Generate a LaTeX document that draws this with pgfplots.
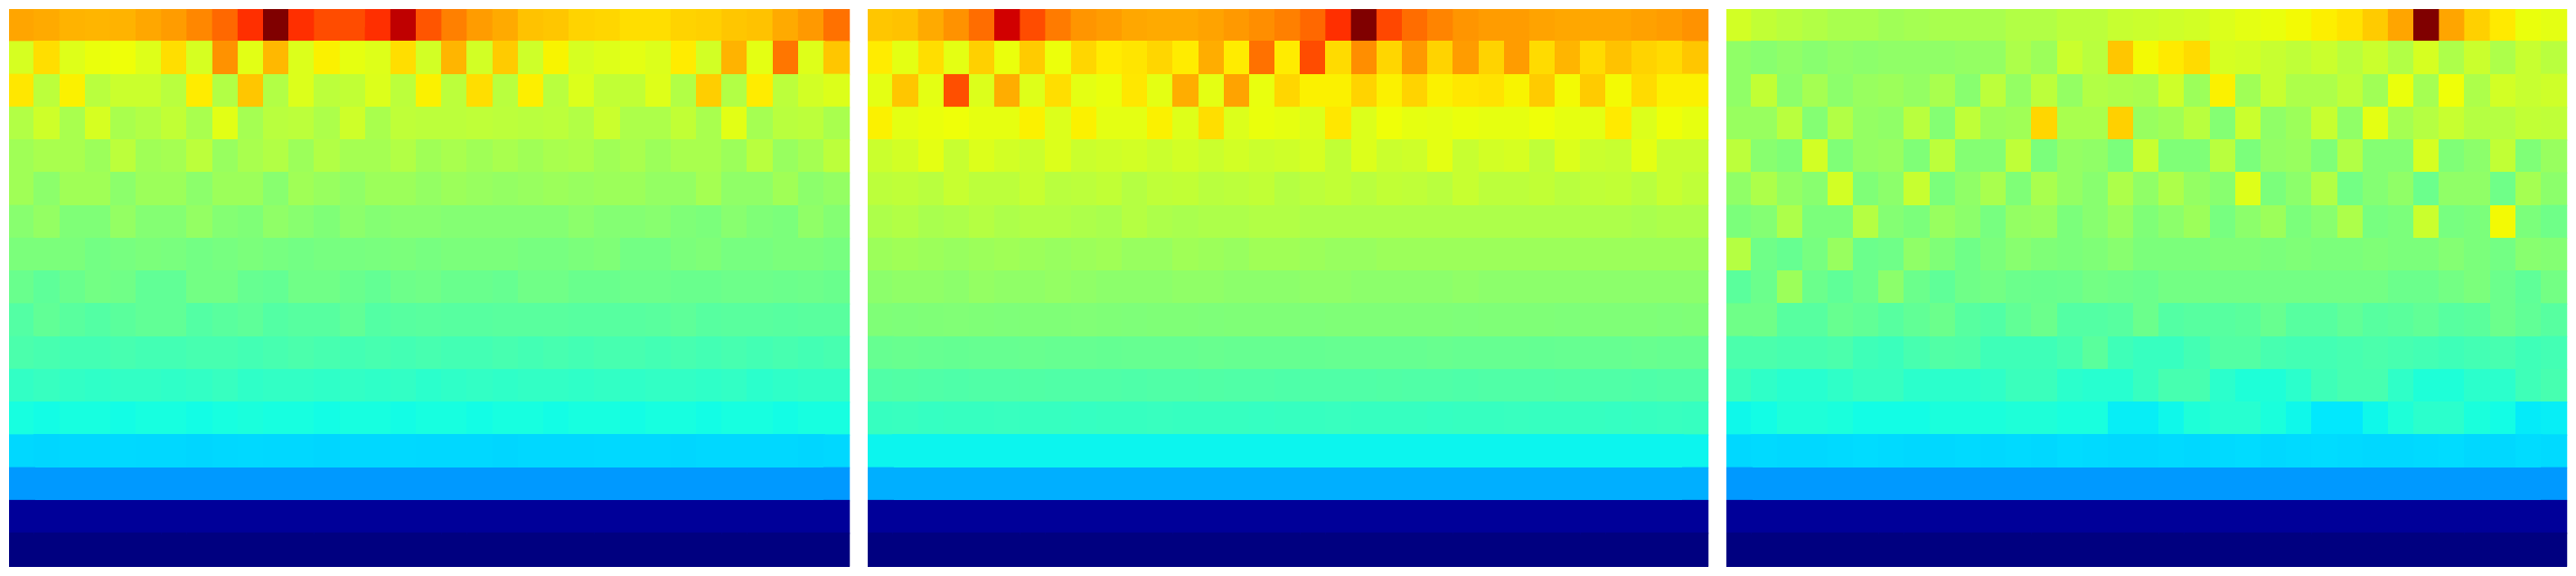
\documentclass[border=0pt]{standalone}
\usepackage{pgfplots}
\pgfplotsset{compat=1.18}
\pgfplotsset{
  colormap={mpljet}{rgb(0pt)=(0,0,0.5); rgb(1100pt)=(0,0,1); rgb(1250pt)=(0,0,1); rgb(3400pt)=(0,0.86,1); rgb(3500pt)=(0,0.9,1); rgb(3750pt)=(0.0806,1,0.8871); rgb(6400pt)=(0.9355,1,0.0323); rgb(6500pt)=(0.9677,0.963,0); rgb(6600pt)=(1,0.9259,0); rgb(8900pt)=(1,0.0741,0); rgb(9100pt)=(0.9091,0,0); rgb(10000pt)=(0.5,0,0)},
  hm/.style={width=232.5pt, height=154pt, scale only axis, hide axis,
    xmin=-0.5, xmax=32.5, ymin=-0.5, ymax=16.5, y dir=reverse,
    colormap name=mpljet, point meta min=0, point meta max=1, anchor=south west},
  hmplot/.style={matrix plot*, mesh/cols=33, mesh/rows=17, point meta=explicit},
}
\begin{document}
\begin{tikzpicture}
\useasboundingbox (0,0) rectangle (712.5pt,159pt);
% ---------------- Panel 1 ----------------
\begin{axis}[hm, at={(2.5pt,2.5pt)}]
\addplot[hmplot] table[header=false, row sep=\\, x expr={\coordindex-33*floor((\coordindex+0.5)/33)}, y expr={floor((\coordindex+0.5)/33)}, meta index=0] {
0.735\\0.73\\0.72\\0.718\\0.72\\0.733\\0.745\\0.767\\0.80\\0.86\\1.0\\0.86\\0.83\\0.83\\0.86\\0.945\\0.82\\0.775\\0.745\\0.73\\0.705\\0.70\\0.687\\0.683\\0.675\\0.675\\0.687\\0.69\\0.70\\0.705\\0.73\\0.748\\0.79\\
0.61\\0.675\\0.62\\0.635\\0.64\\0.62\\0.675\\0.61\\0.755\\0.625\\0.715\\0.617\\0.655\\0.63\\0.62\\0.675\\0.605\\0.718\\0.605\\0.695\\0.60\\0.652\\0.61\\0.62\\0.627\\0.617\\0.66\\0.605\\0.72\\0.627\\0.785\\0.62\\0.70\\
0.665\\0.578\\0.655\\0.575\\0.595\\0.595\\0.575\\0.66\\0.566\\0.70\\0.566\\0.617\\0.578\\0.585\\0.617\\0.578\\0.655\\0.578\\0.675\\0.575\\0.657\\0.575\\0.617\\0.585\\0.585\\0.62\\0.566\\0.692\\0.566\\0.66\\0.578\\0.605\\0.618\\
0.566\\0.60\\0.555\\0.61\\0.556\\0.566\\0.585\\0.555\\0.625\\0.55\\0.575\\0.578\\0.56\\0.60\\0.556\\0.582\\0.578\\0.578\\0.582\\0.578\\0.575\\0.578\\0.566\\0.595\\0.56\\0.56\\0.585\\0.555\\0.625\\0.55\\0.575\\0.578\\0.555\\
0.545\\0.555\\0.555\\0.54\\0.578\\0.545\\0.55\\0.578\\0.535\\0.555\\0.566\\0.54\\0.566\\0.55\\0.55\\0.566\\0.545\\0.555\\0.545\\0.555\\0.545\\0.555\\0.56\\0.545\\0.555\\0.54\\0.555\\0.555\\0.54\\0.575\\0.535\\0.55\\0.578\\
0.545\\0.52\\0.545\\0.545\\0.52\\0.54\\0.54\\0.52\\0.54\\0.54\\0.515\\0.545\\0.535\\0.525\\0.54\\0.54\\0.53\\0.54\\0.535\\0.53\\0.535\\0.54\\0.535\\0.54\\0.54\\0.53\\0.53\\0.55\\0.525\\0.525\\0.545\\0.52\\0.53\\
0.515\\0.53\\0.505\\0.505\\0.53\\0.51\\0.51\\0.53\\0.51\\0.505\\0.525\\0.515\\0.505\\0.52\\0.51\\0.515\\0.515\\0.51\\0.51\\0.51\\0.51\\0.51\\0.52\\0.51\\0.51\\0.515\\0.505\\0.50\\0.515\\0.505\\0.50\\0.525\\0.51\\
0.50\\0.50\\0.50\\0.49\\0.495\\0.50\\0.497\\0.49\\0.495\\0.50\\0.495\\0.49\\0.495\\0.495\\0.497\\0.50\\0.495\\0.50\\0.50\\0.50\\0.495\\0.495\\0.50\\0.505\\0.49\\0.49\\0.50\\0.505\\0.495\\0.495\\0.50\\0.50\\0.495\\
0.478\\0.464\\0.478\\0.49\\0.486\\0.468\\0.468\\0.49\\0.49\\0.474\\0.47\\0.486\\0.486\\0.478\\0.47\\0.482\\0.486\\0.478\\0.478\\0.474\\0.486\\0.486\\0.478\\0.478\\0.482\\0.482\\0.478\\0.478\\0.482\\0.482\\0.48\\0.482\\0.478\\
0.451\\0.468\\0.458\\0.451\\0.46\\0.468\\0.468\\0.451\\0.458\\0.464\\0.451\\0.456\\0.456\\0.468\\0.451\\0.456\\0.458\\0.456\\0.456\\0.458\\0.458\\0.458\\0.456\\0.456\\0.456\\0.458\\0.464\\0.456\\0.458\\0.458\\0.456\\0.458\\0.458\\
0.441\\0.436\\0.431\\0.431\\0.436\\0.431\\0.431\\0.436\\0.436\\0.431\\0.436\\0.441\\0.436\\0.431\\0.436\\0.431\\0.436\\0.431\\0.431\\0.436\\0.431\\0.436\\0.431\\0.436\\0.436\\0.431\\0.436\\0.431\\0.436\\0.431\\0.436\\0.431\\0.436\\
0.411\\0.417\\0.411\\0.407\\0.411\\0.411\\0.407\\0.411\\0.417\\0.407\\0.411\\0.411\\0.407\\0.411\\0.407\\0.411\\0.402\\0.407\\0.411\\0.407\\0.411\\0.411\\0.407\\0.411\\0.407\\0.411\\0.411\\0.407\\0.411\\0.402\\0.407\\0.411\\0.411\\
0.378\\0.373\\0.378\\0.378\\0.373\\0.378\\0.378\\0.373\\0.378\\0.382\\0.378\\0.378\\0.373\\0.378\\0.378\\0.373\\0.378\\0.378\\0.373\\0.378\\0.378\\0.373\\0.378\\0.378\\0.373\\0.378\\0.378\\0.373\\0.378\\0.378\\0.373\\0.378\\0.378\\
0.337\\0.335\\0.337\\0.337\\0.338\\0.337\\0.337\\0.335\\0.337\\0.338\\0.337\\0.337\\0.335\\0.337\\0.337\\0.338\\0.337\\0.337\\0.337\\0.335\\0.337\\0.337\\0.337\\0.338\\0.337\\0.337\\0.335\\0.337\\0.337\\0.337\\0.337\\0.335\\0.337\\
0.275\\0.275\\0.275\\0.275\\0.275\\0.275\\0.275\\0.275\\0.275\\0.275\\0.275\\0.275\\0.275\\0.275\\0.275\\0.275\\0.275\\0.275\\0.275\\0.275\\0.275\\0.275\\0.275\\0.275\\0.275\\0.275\\0.275\\0.275\\0.275\\0.275\\0.275\\0.275\\0.275\\
0.022\\0.022\\0.022\\0.022\\0.022\\0.022\\0.022\\0.022\\0.022\\0.022\\0.022\\0.022\\0.022\\0.022\\0.022\\0.022\\0.022\\0.022\\0.022\\0.022\\0.022\\0.022\\0.022\\0.022\\0.022\\0.022\\0.022\\0.022\\0.022\\0.022\\0.022\\0.022\\0.022\\
0\\0\\0\\0\\0\\0\\0\\0\\0\\0\\0\\0\\0\\0\\0\\0\\0\\0\\0\\0\\0\\0\\0\\0\\0\\0\\0\\0\\0\\0\\0\\0\\0\\
};
\end{axis}
% ---------------- Panel 2 ----------------
\begin{axis}[hm, at={(240pt,2.5pt)}]
\addplot[hmplot] table[header=false, row sep=\\, x expr={\coordindex-33*floor((\coordindex+0.5)/33)}, y expr={floor((\coordindex+0.5)/33)}, meta index=0] {
0.70\\0.705\\0.73\\0.755\\0.795\\0.93\\0.83\\0.78\\0.752\\0.745\\0.733\\0.73\\0.73\\0.737\\0.748\\0.76\\0.775\\0.80\\0.86\\1.0\\0.835\\0.795\\0.77\\0.752\\0.745\\0.745\\0.737\\0.733\\0.733\\0.733\\0.74\\0.745\\0.755\\
0.66\\0.627\\0.675\\0.627\\0.69\\0.635\\0.695\\0.637\\0.683\\0.66\\0.667\\0.683\\0.66\\0.727\\0.66\\0.79\\0.66\\0.83\\0.678\\0.76\\0.683\\0.748\\0.687\\0.745\\0.687\\0.745\\0.678\\0.718\\0.678\\0.705\\0.687\\0.678\\0.70\\
0.627\\0.70\\0.627\\0.826\\0.617\\0.727\\0.62\\0.675\\0.627\\0.635\\0.665\\0.627\\0.727\\0.627\\0.737\\0.633\\0.683\\0.655\\0.655\\0.687\\0.655\\0.687\\0.655\\0.665\\0.67\\0.652\\0.695\\0.645\\0.695\\0.645\\0.678\\0.655\\0.655\\
0.655\\0.627\\0.635\\0.64\\0.63\\0.63\\0.655\\0.617\\0.655\\0.627\\0.627\\0.655\\0.62\\0.675\\0.617\\0.635\\0.63\\0.617\\0.665\\0.617\\0.64\\0.63\\0.627\\0.635\\0.63\\0.63\\0.64\\0.63\\0.627\\0.662\\0.617\\0.64\\0.63\\
0.595\\0.605\\0.627\\0.592\\0.617\\0.605\\0.595\\0.617\\0.595\\0.60\\0.605\\0.595\\0.605\\0.595\\0.605\\0.595\\0.60\\0.61\\0.585\\0.617\\0.595\\0.60\\0.627\\0.592\\0.605\\0.61\\0.582\\0.617\\0.595\\0.592\\0.627\\0.592\\0.592\\
0.578\\0.582\\0.575\\0.592\\0.578\\0.578\\0.592\\0.575\\0.578\\0.585\\0.57\\0.582\\0.585\\0.575\\0.578\\0.585\\0.57\\0.578\\0.585\\0.575\\0.585\\0.582\\0.575\\0.592\\0.578\\0.578\\0.585\\0.575\\0.582\\0.585\\0.575\\0.592\\0.582\\
0.56\\0.566\\0.555\\0.56\\0.57\\0.56\\0.566\\0.566\\0.56\\0.555\\0.57\\0.56\\0.555\\0.56\\0.56\\0.566\\0.566\\0.56\\0.56\\0.56\\0.56\\0.56\\0.56\\0.56\\0.56\\0.56\\0.56\\0.56\\0.56\\0.56\\0.555\\0.56\\0.56\\
0.54\\0.545\\0.54\\0.535\\0.54\\0.545\\0.54\\0.535\\0.54\\0.545\\0.535\\0.535\\0.545\\0.54\\0.535\\0.545\\0.545\\0.54\\0.535\\0.535\\0.54\\0.54\\0.54\\0.54\\0.54\\0.54\\0.54\\0.54\\0.54\\0.54\\0.54\\0.54\\0.54\\
0.52\\0.525\\0.525\\0.52\\0.53\\0.525\\0.525\\0.53\\0.525\\0.52\\0.52\\0.52\\0.525\\0.525\\0.52\\0.52\\0.52\\0.525\\0.525\\0.52\\0.52\\0.52\\0.52\\0.525\\0.52\\0.52\\0.52\\0.52\\0.52\\0.52\\0.52\\0.52\\0.52\\
0.505\\0.503\\0.505\\0.507\\0.505\\0.503\\0.505\\0.505\\0.507\\0.505\\0.503\\0.505\\0.505\\0.503\\0.505\\0.505\\0.505\\0.503\\0.505\\0.505\\0.505\\0.505\\0.505\\0.503\\0.505\\0.505\\0.505\\0.503\\0.505\\0.505\\0.505\\0.503\\0.505\\
0.474\\0.476\\0.474\\0.472\\0.474\\0.474\\0.476\\0.474\\0.474\\0.472\\0.474\\0.474\\0.474\\0.476\\0.474\\0.474\\0.474\\0.472\\0.474\\0.474\\0.474\\0.474\\0.476\\0.474\\0.474\\0.474\\0.472\\0.474\\0.474\\0.474\\0.476\\0.474\\0.474\\
0.447\\0.449\\0.447\\0.445\\0.447\\0.447\\0.449\\0.447\\0.447\\0.447\\0.445\\0.447\\0.447\\0.449\\0.447\\0.447\\0.445\\0.447\\0.447\\0.447\\0.449\\0.447\\0.447\\0.445\\0.447\\0.447\\0.447\\0.449\\0.447\\0.447\\0.445\\0.447\\0.447\\
0.416\\0.418\\0.414\\0.416\\0.416\\0.418\\0.416\\0.416\\0.414\\0.416\\0.416\\0.418\\0.416\\0.416\\0.416\\0.414\\0.416\\0.416\\0.418\\0.416\\0.416\\0.416\\0.414\\0.416\\0.416\\0.418\\0.416\\0.416\\0.416\\0.414\\0.416\\0.418\\0.416\\
0.365\\0.365\\0.365\\0.365\\0.365\\0.365\\0.365\\0.365\\0.365\\0.365\\0.365\\0.365\\0.365\\0.365\\0.365\\0.365\\0.365\\0.365\\0.365\\0.365\\0.365\\0.365\\0.365\\0.365\\0.365\\0.365\\0.365\\0.365\\0.365\\0.365\\0.365\\0.365\\0.365\\
0.297\\0.297\\0.297\\0.297\\0.297\\0.297\\0.297\\0.297\\0.297\\0.297\\0.297\\0.297\\0.297\\0.297\\0.297\\0.297\\0.297\\0.297\\0.297\\0.297\\0.297\\0.297\\0.297\\0.297\\0.297\\0.297\\0.297\\0.297\\0.297\\0.297\\0.297\\0.297\\0.297\\
0.022\\0.022\\0.022\\0.022\\0.022\\0.022\\0.022\\0.022\\0.022\\0.022\\0.022\\0.022\\0.022\\0.022\\0.022\\0.022\\0.022\\0.022\\0.022\\0.022\\0.022\\0.022\\0.022\\0.022\\0.022\\0.022\\0.022\\0.022\\0.022\\0.022\\0.022\\0.022\\0.022\\
0\\0\\0\\0\\0\\0\\0\\0\\0\\0\\0\\0\\0\\0\\0\\0\\0\\0\\0\\0\\0\\0\\0\\0\\0\\0\\0\\0\\0\\0\\0\\0\\0\\
};
\end{axis}
% ---------------- Panel 3 ----------------
\begin{axis}[hm, at={(477.5pt,2.5pt)}]
\addplot[hmplot] table[header=false, row sep=\\, x expr={\coordindex-33*floor((\coordindex+0.5)/33)}, y expr={floor((\coordindex+0.5)/33)}, meta index=0] {
0.605\\0.585\\0.575\\0.566\\0.555\\0.555\\0.545\\0.55\\0.555\\0.555\\0.555\\0.566\\0.566\\0.578\\0.578\\0.592\\0.595\\0.60\\0.605\\0.617\\0.627\\0.635\\0.645\\0.657\\0.67\\0.695\\0.735\\1.0\\0.735\\0.69\\0.662\\0.635\\0.627\\
0.525\\0.515\\0.525\\0.515\\0.525\\0.52\\0.525\\0.525\\0.525\\0.53\\0.53\\0.56\\0.54\\0.595\\0.575\\0.70\\0.645\\0.662\\0.678\\0.61\\0.605\\0.592\\0.582\\0.595\\0.575\\0.595\\0.566\\0.61\\0.56\\0.595\\0.56\\0.592\\0.575\\
0.525\\0.585\\0.52\\0.55\\0.52\\0.535\\0.54\\0.53\\0.555\\0.515\\0.578\\0.53\\0.578\\0.53\\0.566\\0.56\\0.555\\0.60\\0.54\\0.655\\0.545\\0.592\\0.56\\0.56\\0.582\\0.545\\0.635\\0.55\\0.64\\0.56\\0.605\\0.592\\0.60\\
0.535\\0.535\\0.575\\0.51\\0.566\\0.53\\0.525\\0.575\\0.51\\0.582\\0.54\\0.545\\0.683\\0.555\\0.555\\0.69\\0.535\\0.545\\0.575\\0.51\\0.595\\0.525\\0.54\\0.592\\0.525\\0.627\\0.55\\0.57\\0.592\\0.57\\0.57\\0.585\\0.582\\
0.578\\0.515\\0.505\\0.605\\0.505\\0.53\\0.535\\0.505\\0.578\\0.51\\0.51\\0.582\\0.50\\0.53\\0.525\\0.50\\0.592\\0.505\\0.505\\0.575\\0.50\\0.53\\0.535\\0.505\\0.566\\0.51\\0.51\\0.61\\0.505\\0.52\\0.585\\0.505\\0.535\\
0.525\\0.56\\0.53\\0.515\\0.605\\0.505\\0.52\\0.592\\0.50\\0.525\\0.555\\0.505\\0.555\\0.53\\0.515\\0.56\\0.525\\0.56\\0.53\\0.515\\0.62\\0.50\\0.52\\0.566\\0.49\\0.51\\0.525\\0.48\\0.525\\0.525\\0.485\\0.55\\0.52\\
0.50\\0.51\\0.56\\0.50\\0.50\\0.57\\0.51\\0.50\\0.535\\0.52\\0.495\\0.53\\0.535\\0.50\\0.515\\0.535\\0.505\\0.52\\0.54\\0.495\\0.52\\0.54\\0.50\\0.515\\0.56\\0.495\\0.50\\0.595\\0.495\\0.50\\0.645\\0.50\\0.485\\
0.57\\0.485\\0.474\\0.495\\0.535\\0.48\\0.485\\0.525\\0.505\\0.485\\0.50\\0.515\\0.505\\0.50\\0.505\\0.515\\0.50\\0.50\\0.50\\0.505\\0.505\\0.50\\0.505\\0.50\\0.50\\0.505\\0.50\\0.50\\0.51\\0.50\\0.49\\0.515\\0.51\\
0.46\\0.48\\0.54\\0.48\\0.465\\0.48\\0.52\\0.48\\0.465\\0.485\\0.49\\0.48\\0.478\\0.48\\0.49\\0.485\\0.48\\0.49\\0.49\\0.49\\0.49\\0.49\\0.49\\0.49\\0.49\\0.49\\0.48\\0.48\\0.49\\0.499\\0.48\\0.465\\0.49\\
0.485\\0.485\\0.456\\0.456\\0.475\\0.468\\0.456\\0.468\\0.48\\0.456\\0.448\\0.468\\0.48\\0.451\\0.451\\0.456\\0.48\\0.451\\0.456\\0.456\\0.46\\0.475\\0.456\\0.456\\0.468\\0.456\\0.46\\0.468\\0.456\\0.46\\0.48\\0.468\\0.456\\
0.441\\0.441\\0.436\\0.436\\0.441\\0.426\\0.421\\0.436\\0.448\\0.446\\0.426\\0.426\\0.426\\0.436\\0.46\\0.426\\0.417\\0.417\\0.431\\0.451\\0.451\\0.436\\0.431\\0.431\\0.436\\0.441\\0.436\\0.431\\0.426\\0.431\\0.436\\0.426\\0.431\\
0.421\\0.407\\0.397\\0.397\\0.407\\0.417\\0.417\\0.402\\0.402\\0.402\\0.407\\0.421\\0.421\\0.402\\0.397\\0.397\\0.417\\0.436\\0.436\\0.402\\0.387\\0.387\\0.402\\0.426\\0.436\\0.436\\0.407\\0.387\\0.387\\0.402\\0.402\\0.426\\0.436\\
0.368\\0.373\\0.387\\0.387\\0.382\\0.373\\0.373\\0.373\\0.382\\0.382\\0.382\\0.387\\0.387\\0.38\\0.38\\0.358\\0.358\\0.368\\0.387\\0.397\\0.397\\0.382\\0.368\\0.352\\0.352\\0.368\\0.387\\0.402\\0.402\\0.382\\0.373\\0.355\\0.358\\
0.337\\0.339\\0.337\\0.337\\0.339\\0.341\\0.339\\0.337\\0.337\\0.339\\0.337\\0.339\\0.337\\0.341\\0.339\\0.337\\0.337\\0.339\\0.337\\0.339\\0.341\\0.337\\0.339\\0.341\\0.339\\0.337\\0.337\\0.339\\0.341\\0.337\\0.337\\0.341\\0.339\\
0.275\\0.275\\0.275\\0.275\\0.275\\0.275\\0.275\\0.275\\0.275\\0.275\\0.275\\0.275\\0.275\\0.275\\0.275\\0.275\\0.275\\0.275\\0.275\\0.275\\0.275\\0.275\\0.275\\0.275\\0.275\\0.275\\0.275\\0.275\\0.275\\0.275\\0.275\\0.275\\0.275\\
0.022\\0.022\\0.022\\0.022\\0.022\\0.022\\0.022\\0.022\\0.022\\0.022\\0.022\\0.022\\0.022\\0.022\\0.022\\0.022\\0.022\\0.022\\0.022\\0.022\\0.022\\0.022\\0.022\\0.022\\0.022\\0.022\\0.022\\0.022\\0.022\\0.022\\0.022\\0.022\\0.022\\
0\\0\\0\\0\\0\\0\\0\\0\\0\\0\\0\\0\\0\\0\\0\\0\\0\\0\\0\\0\\0\\0\\0\\0\\0\\0\\0\\0\\0\\0\\0\\0\\0\\
};
\end{axis}
\end{tikzpicture}
\end{document}
